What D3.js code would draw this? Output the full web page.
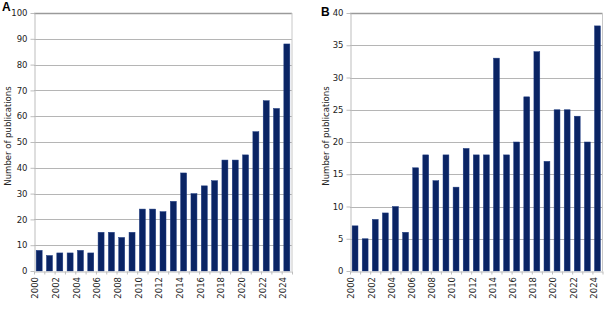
<!DOCTYPE html>
<html lang="en">
<head>
<meta charset="UTF-8">
<title>publications</title>
<script src="https://d3js.org/d3.v7.min.js"></script>
<style>
    html, body { margin: 0; padding: 0; background: #fff; }
    text { font-family: "DejaVu Sans", Verdana, sans-serif; }
    .tick text { font-size: 8.5px; fill: #222; }
    .axis path { stroke: #bdbdbd; }
    .axis line { stroke: #bdbdbd; }
</style>
</head>
<body>
<div id="chart"></div>
<script>
    // years shared by both panels
    var years = d3.range(2000, 2025).map(String);
    var labelYears = years.filter(function(d, i) { return i % 2 === 0; });

    // panel A and B counts
    var valuesA = [8, 6, 7, 7, 8, 7, 15, 15, 13, 15, 24, 24, 23, 27, 38, 30, 33, 35, 43, 43, 45, 54, 66, 63, 88];
    var valuesB = [7, 5, 8, 9, 10, 6, 16, 18, 14, 18, 13, 19, 18, 18, 33, 18, 20, 27, 34, 17, 25, 25, 24, 20, 38];

    var ticksA = [0, 10, 20, 30, 40, 50, 60, 70, 80, 90, 100];
    var ticksB = [0, 5, 10, 15, 20, 25, 30, 35, 40];

    var svg = d3.select("#chart").append("svg")
        .attr("width", 610)
        .attr("height", 335);

    drawPanel("A", valuesA, ticksA, {left: 34, right: 292, top: 13, bottom: 271}, 8, 2, 11);
    drawPanel("B", valuesB, ticksB, {left: 350, right: 602.5, top: 13, bottom: 271}, 326, 321, 16);

    function drawPanel(letter, values, ticks, box, ylabX, letterX, letterY) {
        var g = svg.append("g");

        var x = d3.scaleBand().domain(years).range([box.left, box.right]).paddingInner(0.42).paddingOuter(0.21);
        var y = d3.scaleLinear().domain([0, d3.max(ticks)]).range([box.bottom, box.top]);

        // gridlines
        g.selectAll(".grid").data(ticks.slice(1)).enter().append("line")
            .attr("x1", box.left).attr("x2", box.right)
            .attr("y1", function(d) { return Math.round(y(d)) + 0.5; })
            .attr("y2", function(d) { return Math.round(y(d)) + 0.5; })
            .attr("stroke", function(d, i) { return i === ticks.length - 2 ? "#9a9a9a" : "#b5b5b5"; })
            .attr("stroke-width", function(d, i) { return i === ticks.length - 2 ? 1.5 : 1; });

        // right border
        g.append("line")
            .attr("x1", box.right).attr("x2", box.right)
            .attr("y1", box.top).attr("y2", box.bottom)
            .attr("stroke", "#c8c8c8");

        g.selectAll(".bar").data(values).enter().append("rect")
            .attr("x", function(d, i) { return x(years[i]); })
            .attr("width", x.bandwidth())
            .attr("y", function(d) { return y(d); })
            .attr("height", function(d) { return box.bottom - y(d); })
            .attr("fill", "#0a2464")
            .attr("stroke", "#1c3a80")
            .attr("stroke-width", 0.5);

        var yAxis = g.append("g")
            .attr("class", "axis")
            .attr("transform", "translate(" + (box.left + 0.5) + ",0)")
            .call(d3.axisLeft(y).tickValues(ticks).tickSize(4).tickSizeOuter(0).tickPadding(3));

        // category boundaries for the x ticks
        var xb = d3.scaleLinear().domain([0, years.length]).range([box.left, box.right]);
        var xAxis = g.append("g")
            .attr("class", "axis")
            .attr("transform", "translate(0," + (box.bottom + 0.5) + ")")
            .call(d3.axisBottom(xb).tickValues(d3.range(0, years.length + 1)).tickSize(3).tickSizeOuter(0).tickFormat(""));

        g.selectAll(".xlab").data(labelYears).enter().append("text")
            .attr("class", "tick")
            .attr("transform", function(d, i) {
                return "translate(" + (xb(i * 2) + 1.5) + "," + (box.bottom + 6) + ") rotate(-90)";
            })
            .attr("text-anchor", "end")
            .attr("dy", "0.35em")
            .style("font-size", "8.5px")
            .style("fill", "#222")
            .text(function(d) { return d; });

        g.append("text")
            .attr("transform", "translate(" + ylabX + "," + ((box.top + box.bottom) / 2 - 6) + ") rotate(-90)")
            .attr("text-anchor", "middle")
            .attr("dy", "0.35em")
            .style("font-size", "8.5px")
            .style("fill", "#222")
            .text("Number of publications");

        g.append("text")
            .attr("x", letterX)
            .attr("y", letterY)
            .style("font-size", "12px")
            .style("font-weight", "bold")
            .style("font-family", "Liberation Sans, Arial, sans-serif")
            .text(letter);
    }
</script>
</body>
</html>
